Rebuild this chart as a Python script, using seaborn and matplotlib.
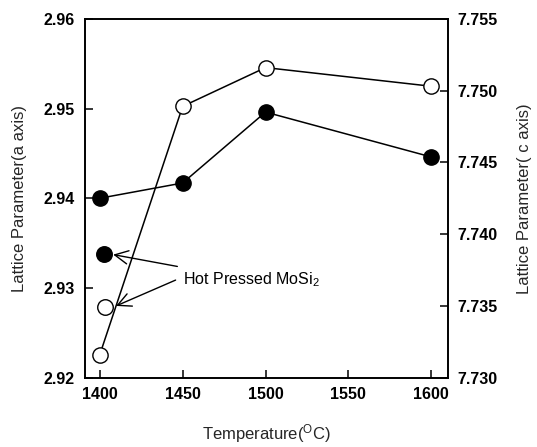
import matplotlib
matplotlib.use("Agg")
import matplotlib.pyplot as plt
import seaborn as sns
import pandas as pd
from matplotlib.ticker import FormatStrFormatter

# Data
temps = [1400, 1450, 1500, 1600]
a_axis = [2.9400, 2.9417, 2.9496, 2.9446]
c_axis = [7.7316, 7.7489, 7.7516, 7.7503]
hp_temp_a = [1402.5]
hp_a = [2.9338]
hp_temp_c = [1403]
hp_c = [7.7349]
x_ticks = [1400, 1450, 1500, 1550, 1600]
a_ticks = [2.92, 2.93, 2.94, 2.95, 2.96]
c_ticks = [7.730, 7.735, 7.740, 7.745, 7.750, 7.755]

sns.set_style("ticks")
plt.rcParams['font.family'] = ['Liberation Sans', 'DejaVu Sans']

fig = plt.figure(figsize=(5.37, 4.47), dpi=100)
ax = fig.add_axes([0.158, 0.155, 0.676, 0.803])
ax2 = ax.twinx()

df_a = pd.DataFrame({"T": temps, "v": a_axis})
df_c = pd.DataFrame({"T": temps, "v": c_axis})

sns.lineplot(data=df_a, x="T", y="v", ax=ax, color="black", lw=1.1,
             marker="o", markersize=11, markerfacecolor="black",
             markeredgecolor="black", markeredgewidth=1.0, zorder=3)
sns.scatterplot(x=hp_temp_a, y=hp_a, ax=ax, s=125, color="black",
                edgecolor="black", linewidth=1.0, zorder=3)

sns.lineplot(data=df_c, x="T", y="v", ax=ax2, color="black", lw=1.1,
             marker="o", markersize=11, markerfacecolor="white",
             markeredgecolor="black", markeredgewidth=1.0, zorder=3)
sns.scatterplot(x=hp_temp_c, y=hp_c, ax=ax2, s=125, color="white",
                edgecolor="black", linewidth=1.0, zorder=3)

ax.set_xlim(1391, 1610)
ax.set_ylim(2.92, 2.96)
ax2.set_ylim(7.730, 7.755)
ax.set_xticks(x_ticks)
ax.set_yticks(a_ticks)
ax2.set_yticks(c_ticks)
ax.yaxis.set_major_formatter(FormatStrFormatter('%.2f'))
ax2.yaxis.set_major_formatter(FormatStrFormatter('%.3f'))

for a in (ax, ax2):
    for s in a.spines.values():
        s.set_linewidth(1.2)
        s.set_color("black")
    a.tick_params(direction="in", length=6, width=1.1, labelsize=11.5,
                  colors="black", pad=7)
    for lbl in a.get_xticklabels() + a.get_yticklabels():
        lbl.set_fontweight("bold")
ax2.spines["right"].set_visible(True)
ax.spines["top"].set_visible(True)

ax.set_xlabel("Temperature($\\mathregular{^{O}}$C)", fontsize=12, labelpad=14)
ax.set_ylabel("Lattice Parameter(a axis)", fontsize=12, labelpad=12)
ax2.set_ylabel("Lattice Parameter( c axis)", fontsize=12, labelpad=14)

# Annotation (axes fraction coordinates)
txt_xy = (0.27, 0.272)
ax.annotate("Hot Pressed MoSi$\\mathregular{_2}$", xy=(0.078, 0.343), xycoords="axes fraction",
            xytext=txt_xy, textcoords="axes fraction", fontsize=11.5, va="center",
            color="black",
            arrowprops=dict(arrowstyle="->", color="black", lw=1.0, mutation_scale=24,
                            shrinkA=4, shrinkB=0))
ax.annotate("", xy=(0.086, 0.20), xycoords="axes fraction",
            xytext=(0.25, 0.272), textcoords="axes fraction",
            arrowprops=dict(arrowstyle="->", color="black", lw=1.0, mutation_scale=24,
                            shrinkA=0, shrinkB=0))

ax.set_zorder(ax2.get_zorder() + 1)
ax.patch.set_visible(False)

fig.savefig("out.png", dpi=100)
